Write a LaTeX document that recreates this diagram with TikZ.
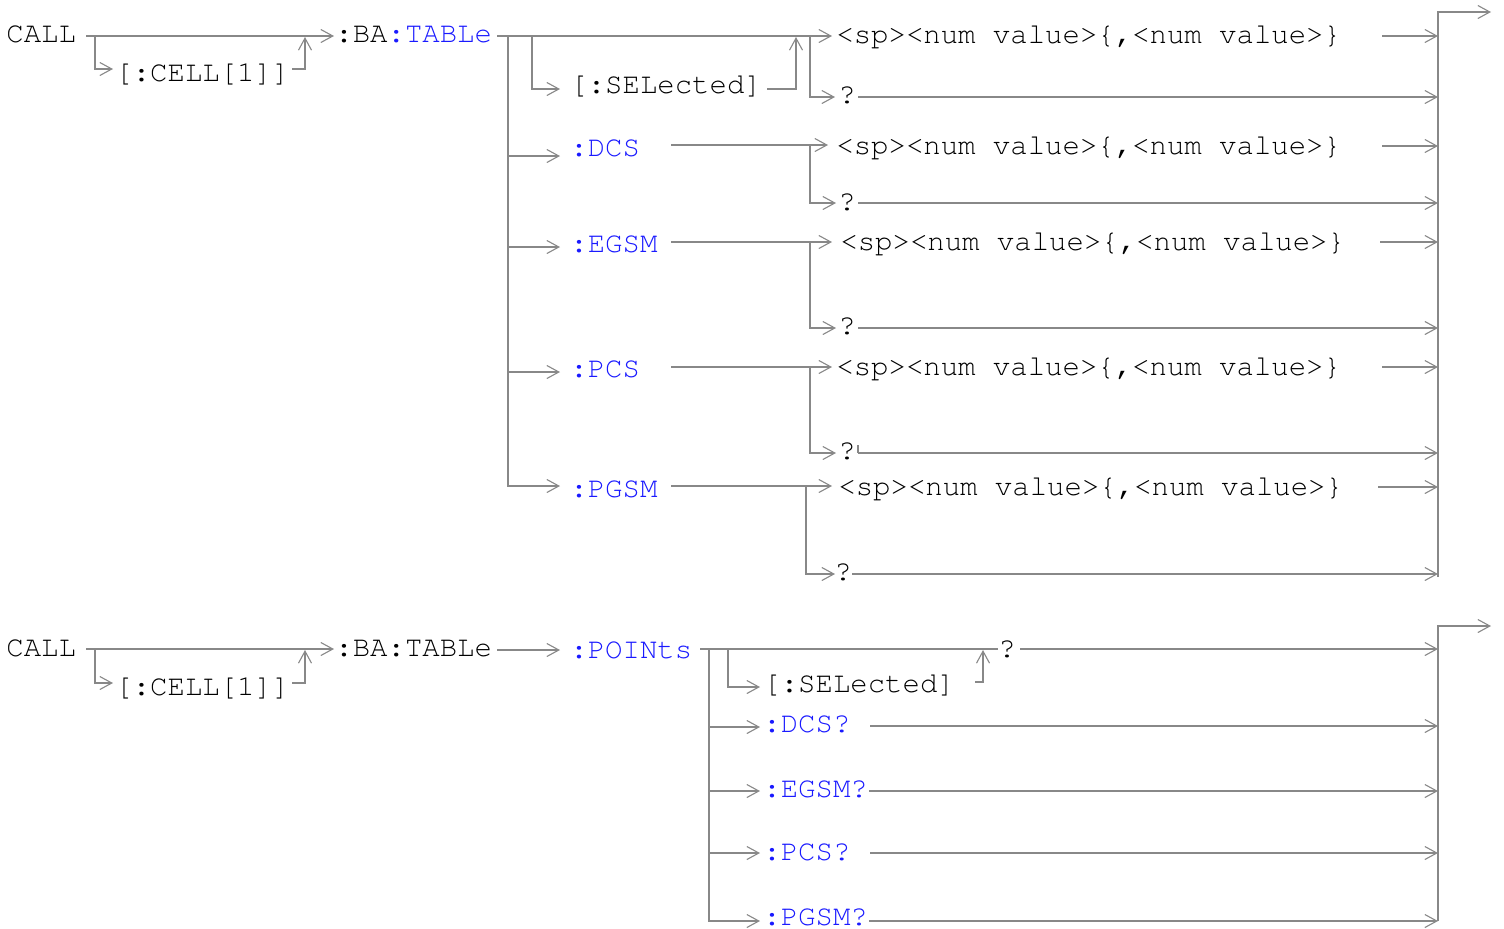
\documentclass[tikz,border=0pt]{standalone}
\usepackage[T1]{fontenc}
\usepackage{courier}
\usetikzlibrary{arrows.meta}
\definecolor{railc}{RGB}{136,136,136}
\definecolor{kw}{RGB}{26,26,255}
\begin{document}
\begin{tikzpicture}[x=0.5pt,y=-0.5pt,
  >={Straight Barb[length=6pt,width=6.5pt,line width=0.55pt]},
  rail/.style={draw=railc,line width=1pt},
  go/.style={rail,->},
  every node/.style={font=\ttfamily\fontsize{14.5}{17}\selectfont,inner sep=0pt,anchor=base west},
  kwn/.style={text=kw}]
\useasboundingbox[fill=white] (0,0) rectangle (1504,928);

% ---------------- CALL:BA:TABLe ----------------
\node (callA) at (6,42) {CALL};
\node (cellA) at (115,81) {[:CELL[1]]};
\node (baA) at (335,42) {:BA\textcolor{kw}{:TABLe}};
\coordinate (jA) at (95,36);
\draw[go] (86,36) -- (334,36);
\draw[go] (jA) -- (95,69) -- (113,69);
\draw[go] (292,69) -- (305,69) -- (305,37);

% column of sub-commands
\coordinate (colA) at (508,36);
\draw[go] (497,36) -- (832,36);
\draw[go] (colA) -- (508,486) -- (560,486);
\draw[go] (532,36) -- (532,89) -- (560,89);
\node (selA) at (570,93) {[:SELected]};
\draw[go] (767,89) -- (796,89) -- (796,37);

% TABLe values / query
\node (valT) at (836,43) {<sp><num value>\{,<num value>\}};
\node (qT) at (838,103) {?};
\draw[go] (810,36) -- (810,97) -- (835,97);
\draw[go] (858,97) -- (1438,97);
\draw[go] (1382,36) -- (1438,36);

% :DCS
\node[kwn] (dcs) at (570,156) {:DCS};
\draw[go] (508,156) -- (560,156);
\draw[go] (671,145) -- (828,145);
\node (valD) at (836,154) {<sp><num value>\{,<num value>\}};
\draw[go] (810,145) -- (810,203) -- (836,203);
\node (qD) at (838,210) {?};
\draw[go] (858,203) -- (1438,203);
\draw[go] (1382,146) -- (1438,146);

% :EGSM
\node[kwn] (egsm) at (570,252) {:EGSM};
\draw[go] (508,247) -- (560,247);
\draw[go] (671,242) -- (832,242);
\node (valE) at (840,250) {<sp><num value>\{,<num value>\}};
\draw[go] (810,242) -- (810,328) -- (836,328);
\node (qE) at (838,334) {?};
\draw[go] (858,328) -- (1438,328);
\draw[go] (1380,242) -- (1438,242);

% :PCS
\node[kwn] (pcs) at (570,377) {:PCS};
\draw[go] (508,372) -- (560,372);
\draw[go] (671,367) -- (832,367);
\node (valP) at (836,375) {<sp><num value>\{,<num value>\}};
\draw[go] (810,367) -- (810,453) -- (836,453);
\node (qP) at (838,459) {?};
\draw[draw=railc,line width=0.6pt] (858,445) -- (858,453);
\draw[go] (858,453) -- (1438,453);
\draw[go] (1382,367) -- (1438,367);

% :PGSM
\node[kwn] (pgsm) at (570,497) {:PGSM};
\draw[go] (671,486) -- (832,486);
\node (valG) at (838,495) {<sp><num value>\{,<num value>\}};
\draw[go] (806,486) -- (806,574) -- (835,574);
\node (qG) at (834,580) {?};
\draw[go] (852,574) -- (1438,574);
\draw[go] (1378,487) -- (1438,487);

% exit rail
\draw[go] (1438,577) -- (1438,12) -- (1491,12);

% ---------------- CALL:BA:TABLe:POINts ----------------
\node (callB) at (6,656) {CALL};
\node (cellB) at (115,695) {[:CELL[1]]};
\node (baB) at (335,656) {:BA:TABLe};
\draw[go] (86,649) -- (334,649);
\draw[go] (95,649) -- (95,683) -- (113,683);
\draw[go] (292,683) -- (305,683) -- (305,650);

\draw[go] (497,650) -- (560,650);
\node[kwn] (pts) at (570,658) {:POINts};

\draw[rail] (700,649) -- (998,649);
\node (qPts) at (998,657) {?};
\draw[go] (1020,649) -- (1438,649);
\draw[go] (728,649) -- (728,687) -- (760,687);
\node (selB) at (763,692) {[:SELected]};
\draw[go] (975,682) -- (983,682) -- (983,650);

\draw[go] (709,649) -- (709,921) -- (760,921);
\node[kwn] (dcsq) at (763,732) {:DCS?};
\draw[go] (709,727) -- (760,727);
\draw[go] (870,726) -- (1438,726);
\node[kwn] (egsmq) at (763,797) {:EGSM?};
\draw[go] (709,791) -- (760,791);
\draw[go] (869,791) -- (1438,791);
\node[kwn] (pcsq) at (763,860) {:PCS?};
\draw[go] (709,853) -- (760,853);
\draw[go] (870,853) -- (1438,853);
\node[kwn] (pgsmq) at (763,925) {:PGSM?};
\draw[go] (869,921) -- (1438,921);

\draw[go] (1438,921) -- (1438,626) -- (1491,626);
\end{tikzpicture}
\end{document}
